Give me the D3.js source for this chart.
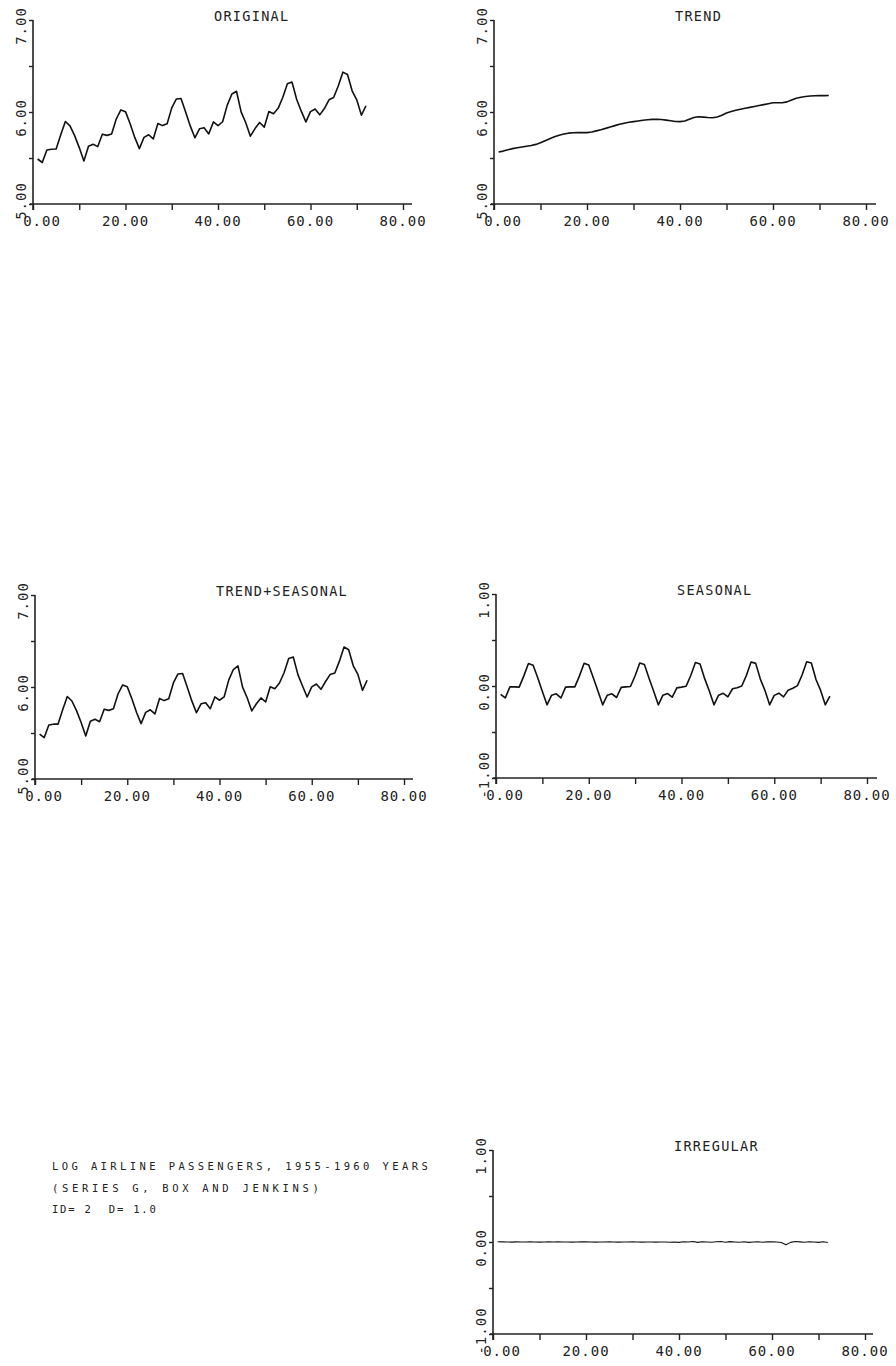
<!DOCTYPE html>
<html>
<head>
<meta charset="utf-8">
<script src="https://cdn.jsdelivr.net/npm/d3@7"></script>
<style>
  body { margin: 0; background: #fff; }
  svg text { font-family: "DejaVu Sans Mono", "Liberation Mono", monospace; fill: #222; }
</style>
</head>
<body>
<div id="chart"></div>
<script>
// month index 1..72 (jan 1955 .. dec 1960)
var months = d3.range(1, 73);

// log airline passengers
var original = [
  5.489, 5.451, 5.587, 5.595, 5.598, 5.753, 5.897, 5.849, 5.743, 5.613, 5.468, 5.628,
  5.649, 5.624, 5.759, 5.746, 5.762, 5.924, 6.023, 6.004, 5.872, 5.724, 5.602, 5.724,
  5.753, 5.707, 5.875, 5.852, 5.872, 6.045, 6.142, 6.146, 6.001, 5.849, 5.720, 5.817,
  5.829, 5.762, 5.892, 5.852, 5.894, 6.075, 6.196, 6.225, 6.001, 5.883, 5.737, 5.820,
  5.886, 5.835, 6.006, 5.981, 6.040, 6.157, 6.306, 6.326, 6.138, 6.009, 5.892, 6.004,
  6.033, 5.969, 6.038, 6.133, 6.157, 6.282, 6.433, 6.407, 6.230, 6.133, 5.966, 6.068
];

var trend = [
  5.565, 5.575, 5.590, 5.602, 5.612, 5.620, 5.628, 5.636, 5.648, 5.665, 5.688, 5.710,
  5.730, 5.748, 5.760, 5.770, 5.775, 5.777, 5.776, 5.776, 5.782, 5.795, 5.808, 5.822,
  5.838, 5.852, 5.866, 5.878, 5.888, 5.895, 5.903, 5.910, 5.916, 5.920, 5.920, 5.918,
  5.912, 5.904, 5.897, 5.895, 5.903, 5.922, 5.940, 5.948, 5.944, 5.940, 5.938, 5.946,
  5.965, 5.990, 6.005, 6.018, 6.030, 6.040, 6.050, 6.060, 6.070, 6.080, 6.090, 6.100,
  6.100, 6.100, 6.110, 6.130, 6.150, 6.160, 6.168, 6.174, 6.177, 6.178, 6.178, 6.180
];

var trendSeasonal = [
  5.487, 5.450, 5.587, 5.596, 5.597, 5.753, 5.897, 5.848, 5.743, 5.614, 5.468, 5.627,
  5.649, 5.623, 5.759, 5.746, 5.763, 5.924, 6.022, 6.002, 5.872, 5.725, 5.602, 5.724,
  5.752, 5.707, 5.876, 5.852, 5.872, 6.044, 6.142, 6.147, 6.001, 5.849, 5.721, 5.817,
  5.829, 5.764, 5.892, 5.856, 5.892, 6.075, 6.190, 6.229, 5.998, 5.883, 5.740, 5.818,
  5.881, 5.837, 6.002, 5.981, 6.043, 6.155, 6.310, 6.326, 6.135, 6.011, 5.891, 6.001,
  6.033, 5.975, 6.060, 6.137, 6.152, 6.281, 6.435, 6.405, 6.230, 6.137, 5.964, 6.073
];

var seasonal = [
  -0.090, -0.130, -0.010, -0.010, -0.012, 0.110, 0.245, 0.225, 0.090, -0.060, -0.205, -0.100,
  -0.085, -0.130, -0.012, -0.010, -0.010, 0.110, 0.247, 0.228, 0.088, -0.058, -0.205, -0.100,
  -0.085, -0.125, -0.015, -0.010, -0.006, 0.112, 0.250, 0.234, 0.085, -0.056, -0.205, -0.100,
  -0.082, -0.122, -0.020, -0.012, -0.002, 0.114, 0.255, 0.240, 0.080, -0.054, -0.205, -0.100,
  -0.080, -0.118, -0.030, -0.018, 0.000, 0.116, 0.260, 0.246, 0.075, -0.050, -0.205, -0.102,
  -0.078, -0.118, -0.045, -0.025, 0.004, 0.120, 0.263, 0.250, 0.070, -0.048, -0.205, -0.110
];

var irregular = [
  0.002, 0.001, 0.000, -0.001, 0.001, 0.000, 0.000, 0.001, 0.000, -0.001, 0.000, 0.001,
  0.000, 0.001, 0.000, 0.000, -0.001, 0.000, 0.001, 0.002, 0.000, -0.001, 0.000, 0.000,
  0.001, 0.000, -0.001, 0.000, 0.000, 0.001, 0.000, -0.001, 0.000, 0.000, -0.001, 0.000,
  0.000, -0.002, 0.000, -0.004, 0.002, 0.000, 0.006, -0.004, 0.003, 0.000, -0.003, 0.002,
  0.005, -0.002, 0.004, 0.000, -0.003, 0.002, -0.004, 0.000, 0.003, -0.002, 0.001, 0.003,
  0.000, -0.006, -0.030, -0.004, 0.005, 0.001, -0.002, 0.002, 0.000, -0.004, 0.002, -0.005
];

// tick values and labels
var xTicks = [0, 10, 20, 30, 40, 50, 60, 70, 80];
var xLabelled = [0, 20, 40, 60, 80];
var levelTicks = [5, 5.5, 6, 6.5, 7];
var levelLabelled = [5, 6, 7];
var compTicks = [-1, -0.5, 0, 0.5, 1];
var compLabelled = [-1, 0, 1];

var titles = ["ORIGINAL", "TREND", "TREND+SEASONAL", "SEASONAL", "IRREGULAR"];
var noteLines = [
  "LOG AIRLINE PASSENGERS, 1955-1960 YEARS",
  "(SERIES G, BOX AND JENKINS)",
  "ID= 2  D= 1.0"
];

var W = 896, H = 1366;
var svg = d3.select("#chart").append("svg")
    .attr("width", W)
    .attr("height", H);

// where each panel sits on the page
var panels = [
  {title: titles[0], values: original,      ticks: levelTicks, labelled: levelLabelled, left: 33,  right: 403, top: 20,   bottom: 204,  end: 412},
  {title: titles[1], values: trend,         ticks: levelTicks, labelled: levelLabelled, left: 494, right: 866, top: 20,   bottom: 204,  end: 876},
  {title: titles[2], values: trendSeasonal, ticks: levelTicks, labelled: levelLabelled, left: 35,  right: 404, top: 595,  bottom: 779,  end: 413},
  {title: titles[3], values: seasonal,      ticks: compTicks,  labelled: compLabelled,  left: 496, right: 867, top: 594,  bottom: 778,  end: 877},
  {title: titles[4], values: irregular,     ticks: compTicks,  labelled: compLabelled,  left: 493, right: 865, top: 1150, bottom: 1334, end: 873, thin: true}
];

panels.forEach(function (p) {
    var x = d3.scaleLinear().domain([0, 80]).range([p.left, p.right]);
    var y = d3.scaleLinear().domain(d3.extent(p.ticks)).range([p.bottom, p.top]);
    var g = svg.append("g");

    // x axis
    var xa = g.append("g")
        .attr("transform", "translate(0," + p.bottom + ")")
        .call(d3.axisBottom(x).tickValues(xTicks).tickSize(6).tickFormat(""));
    xa.select(".domain").remove();
    xa.selectAll("line").attr("stroke", "#222").attr("stroke-width", 1.4);
    g.append("line")
        .attr("x1", p.left - 3).attr("x2", p.end)
        .attr("y1", p.bottom).attr("y2", p.bottom)
        .attr("stroke", "#222").attr("stroke-width", 1.4);

    // y axis
    var ya = g.append("g")
        .attr("transform", "translate(" + p.left + ",0)")
        .call(d3.axisLeft(y).tickValues(p.ticks).tickSize(4).tickFormat(""));
    ya.select(".domain").remove();
    ya.selectAll("line").attr("stroke", "#222").attr("stroke-width", 1.4);
    g.append("line")
        .attr("x1", p.left).attr("x2", p.left)
        .attr("y1", p.top).attr("y2", p.bottom + 6)
        .attr("stroke", "#222").attr("stroke-width", 1.6);

    // x labels, the first one is pushed right of the axis
    g.selectAll(".xl").data(xLabelled).enter().append("text")
        .attr("x", function (d) { return Math.max(x(d), p.left + 9); })
        .attr("y", p.bottom + 22)
        .attr("text-anchor", "middle")
        .style("font-size", "14px")
        .style("letter-spacing", "1px")
        .text(function (d) { return d.toFixed(2); });

    // y labels are rotated, the bottom one is pulled up
    g.selectAll(".yl").data(p.labelled).enter().append("text")
        .attr("transform", function (d) {
            var cy = Math.min(y(d) + 6, p.bottom - 3);
            return "translate(" + (p.left - 7) + "," + cy + ") rotate(-90)";
        })
        .attr("text-anchor", "middle")
        .style("font-size", "14px")
        .style("letter-spacing", "1px")
        .text(function (d) { return d.toFixed(2); });

    // title
    g.append("text")
        .attr("x", p.left + 181)
        .attr("y", p.top + 1)
        .style("font-size", "13.5px")
        .style("letter-spacing", "1.3px")
        .text(p.title);

    // the series
    var line = d3.line()
        .x(function (d, i) { return x(months[i]); })
        .y(function (d) { return y(d); });
    g.append("path")
        .datum(p.values)
        .attr("d", line)
        .attr("fill", "none")
        .attr("stroke", "#111")
        .attr("stroke-width", p.thin ? 1.1 : 1.6)
        .attr("stroke-linejoin", "round");
});

// note block bottom left, last line is set tighter
svg.selectAll(".note").data(noteLines).enter().append("text")
    .attr("x", 52)
    .attr("y", function (d, i) { return 1170 + i * 21.5; })
    .style("font-size", "10.5px")
    .style("white-space", "pre")
    .style("letter-spacing", function (d, i) { return i === 2 ? "1.8px" : (i === 1 ? "3.7px" : "3.4px"); })
    .text(function (d) { return d; });
</script>
</body>
</html>
